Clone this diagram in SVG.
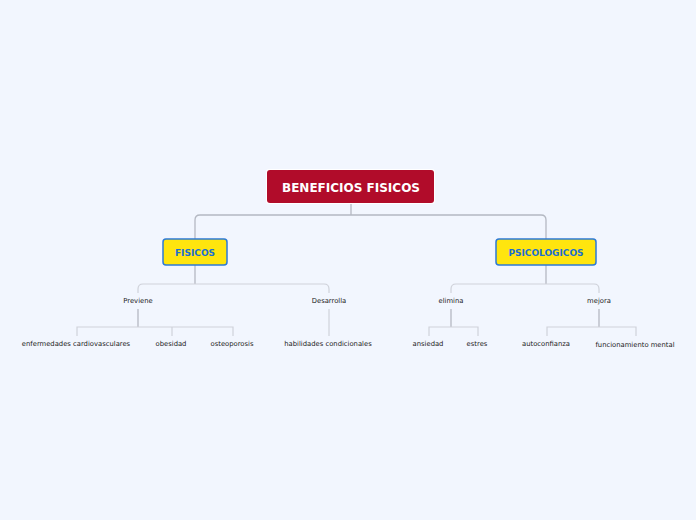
<svg xmlns="http://www.w3.org/2000/svg" width="696" height="520" viewBox="0 0 696 520">
<defs><style>
.c{fill:none;stroke:#b4b8c2;stroke-width:1.3}
.c2{fill:none;stroke:#cfd2da;stroke-width:1.2}
.t{font-family:"DejaVu Sans",Verdana,sans-serif;font-size:6.8px;fill:#222;text-anchor:middle}
.m{font-family:"DejaVu Sans",Verdana,sans-serif;font-size:9px;font-weight:bold;fill:#1a6fd1;text-anchor:middle}
.y{fill:#ffe50e;stroke:#2d7ad6;stroke-width:1.5}
</style></defs>
<rect width="696" height="520" fill="#f2f6fe"/>
<g id="connectors">
<path class="c" d="M351 204V215M195 239V220Q195 215 200 215H541Q546 215 546 220V239"/>
<path class="c" d="M195 265V284M546 265V284"/>
<path class="c2" d="M138 293V289Q138 284 143 284H324Q329 284 329 289V293"/>
<path class="c2" d="M451 293V289Q451 284 456 284H594Q599 284 599 289V293"/>
<path class="c" d="M138 309V327M451 309V327M599 309V327"/>
<path class="c2" d="M329 309V336M77 336V327H233V336M172 327V336M429 336V327H478V336M547 336V327H636V336"/>
</g>
<g id="root"><rect x="266" y="169" width="169" height="35" rx="3" fill="#fff"/><rect x="267" y="170" width="167" height="33" rx="3" fill="#b10c2a"/><text x="351" y="192" font-family="DejaVu Sans,Verdana,sans-serif" font-size="12px" font-weight="bold" fill="#fff" text-anchor="middle">BENEFICIOS FISICOS</text></g>
<g id="fisicos"><rect class="y" x="163" y="239" width="64" height="26" rx="3"/><text class="m" x="195" y="256">FISICOS</text></g>
<g id="psicologicos"><rect class="y" x="496" y="239" width="100" height="26" rx="3"/><text class="m" x="546" y="256">PSICOLOGICOS</text></g>
<g id="previene"><text class="t" x="138" y="303">Previene</text></g>
<g id="desarrolla"><text class="t" x="329" y="303">Desarrolla</text></g>
<g id="elimina"><text class="t" x="451" y="303">elimina</text></g>
<g id="mejora"><text class="t" x="599" y="303">mejora</text></g>
<g id="enf"><text class="t" x="76" y="346">enfermedades cardiovasculares</text></g>
<g id="obesidad"><text class="t" x="171" y="346">obesidad</text></g>
<g id="osteo"><text class="t" x="232" y="346">osteoporosis</text></g>
<g id="habil"><text class="t" x="328" y="346">habilidades condicionales</text></g>
<g id="ansiedad"><text class="t" x="428" y="346">ansiedad</text></g>
<g id="estres"><text class="t" x="477" y="346">estres</text></g>
<g id="auto"><text class="t" x="546" y="346">autoconfianza</text></g>
<g id="func"><text class="t" x="635" y="347">funcionamiento mental</text></g>
</svg>
